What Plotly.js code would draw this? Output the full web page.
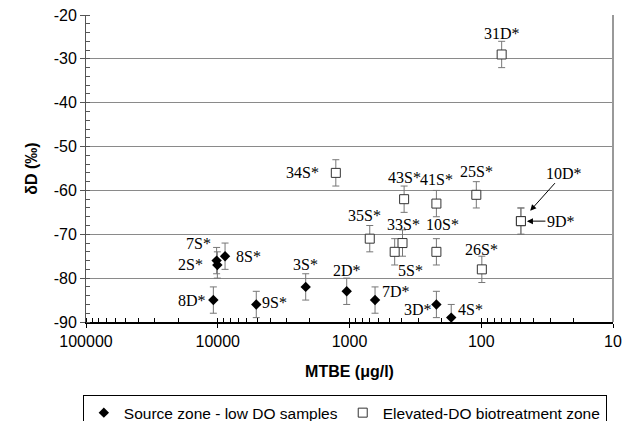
<!DOCTYPE html>
<html>
<head>
<meta charset="utf-8">
<script src="https://cdn.plot.ly/plotly-3.0.1.min.js"></script>
<style>html,body{margin:0;padding:0;background:#fff;}#chart{width:624px;height:421px;}</style>
</head>
<body>
<div id="chart"></div>
<script>
// ---- data ----
const sourceLabels = ['8D*','2S*','7S*','8S*','9S*','3S*','2D*','7D*','3D*','4S*'];
const sourceMTBE   = [10800, 10070, 10200, 8800, 5100, 2150, 1050, 640, 219, 169];
const sourceDD     = [-85, -77, -76, -75, -86, -82, -83, -85, -86, -89];
const sourceErr    = [3, 3, 3, 3, 3, 3, 3, 3, 3, 3];

const elevLabels = ['31D*','34S*','43S*','41S*','25S*','35S*','33S*','5S*','10S*','26S*','9D*','10D*'];
const elevMTBE   = [70, 1270, 385, 219, 109, 702, 396, 454, 219, 99, 50, 50];
const elevDD     = [-29, -56, -62, -63, -61, -71, -72, -74, -74, -78, -67, -67];
const elevErr    = [3, 3, 3, 3, 3, 3, 3, 3, 3, 3, 3, 3];

const xTickVals = [100000, 10000, 1000, 100, 10];
const xTickText = ['100000', '10000', '1000', '100', '10'];
const yTickVals = [-20, -30, -40, -50, -60, -70, -80, -90];
const yTickText = ['-20', '-30', '-40', '-50', '-60', '-70', '-80', '-90'];

// ---- label placement (px offsets from point: dx right, dy up) ----
const sourceOff = [[-21,0],[-27,0],[-18,17],[23,0],[18,2],[0,22],[0,21],[21,9],[-18,-5],[19,8]];
const elevOff   = [[0,21],[-33,0],[0,22],[0,24],[0,23],[-5,23],[1,19],[16,-19],[6,27],[0,20],null,null];
const arrowLabels = {'9D*': {ax: 40, ay: 0, standoff: 6}, '10D*': {ax: 43, ay: -48, standoff: 14}};

const serif = {family: 'Liberation Serif, Times New Roman, serif', size: 16, color: '#000'};
const sans = 'Liberation Sans, Arial, sans-serif';

const annotations = [];
function addLabels(labels, xs, ys, offs) {
  labels.forEach((t, i) => {
    if (arrowLabels[t]) {
      const a = arrowLabels[t];
      annotations.push({x: Math.log10(xs[i]), y: ys[i], xref: 'x', yref: 'y', text: t,
        showarrow: true, ax: a.ax, ay: a.ay, arrowhead: 2, arrowsize: 1.2, arrowwidth: 1,
        arrowcolor: '#000', standoff: a.standoff, font: serif});
    } else {
      annotations.push({x: Math.log10(xs[i]), y: ys[i], xref: 'x', yref: 'y', text: t,
        showarrow: false, xshift: offs[i][0], yshift: offs[i][1], font: serif});
    }
  });
}
addLabels(sourceLabels, sourceMTBE, sourceDD, sourceOff);
addLabels(elevLabels, elevMTBE, elevDD, elevOff);

const traces = [
  {
    x: sourceMTBE, y: sourceDD, type: 'scatter', mode: 'markers',
    name: 'Source zone - low DO samples',
    marker: {symbol: 'diamond', size: 8, color: '#000', line: {width: 0}},
    error_y: {type: 'data', array: sourceErr, visible: true, color: '#777', thickness: 1, width: 3.5},
    cliponaxis: false
  },
  {
    x: elevMTBE, y: elevDD, type: 'scatter', mode: 'markers',
    name: 'Elevated-DO biotreatment zone',
    marker: {symbol: 'square', size: 9, color: '#fff', line: {width: 1, color: '#333'}},
    error_y: {type: 'data', array: elevErr, visible: true, color: '#777', thickness: 1, width: 3.5},
    cliponaxis: false
  }
];

const layout = {
  width: 624, height: 421,
  margin: {l: 86, r: 11, t: 15, b: 99, autoexpand: false},
  paper_bgcolor: '#fff', plot_bgcolor: '#fff',
  font: {family: sans, size: 16, color: '#000'},
  showlegend: true,
  xaxis: {
    type: 'log', range: [5, 1], autorange: false,
    tickvals: xTickVals, ticktext: xTickText,
    ticks: 'outside', ticklen: 4, tickcolor: '#000',
    showline: true, linecolor: '#000', linewidth: 2,
    showgrid: false, zeroline: false,
    tickfont: {family: sans, size: 16},
    minor: {ticks: 'inside', ticklen: 4, tickcolor: '#000', dtick: 'D1', showgrid: false},
    title: {text: '<b>MTBE (μg/l)</b>', font: {family: sans, size: 16}, standoff: 17}
  },
  yaxis: {
    range: [-90, -20], autorange: false,
    tickvals: yTickVals, ticktext: yTickText,
    ticks: 'outside', ticklen: 5, tickcolor: '#555',
    showline: true, linecolor: '#555', linewidth: 1,
    showgrid: true, gridcolor: '#8a8a8a', gridwidth: 1,
    zeroline: false,
    tickfont: {family: sans, size: 16},
    minor: {ticks: 'inside', ticklen: 4, tickcolor: '#555', dtick: 2, showgrid: false},
    title: {text: '<b>δD (‰)</b>', font: {family: sans, size: 16}, standoff: 12}
  },
  legend: {
    orientation: 'h', xref: 'paper', yref: 'paper',
    x: -0.006, y: -0.238, xanchor: 'left', yanchor: 'top',
    bordercolor: '#000', borderwidth: 1, bgcolor: '#fff',
    font: {family: sans, size: 15.5}, itemwidth: 30
  },
  shapes: [
    {type: 'line', xref: 'paper', yref: 'paper', x0: 1, x1: 1, y0: 0, y1: 1, line: {color: '#999', width: 2}}
  ],
  annotations: annotations
};

Plotly.newPlot('chart', traces, layout, {displayModeBar: false, staticPlot: true});
</script>
</body>
</html>
